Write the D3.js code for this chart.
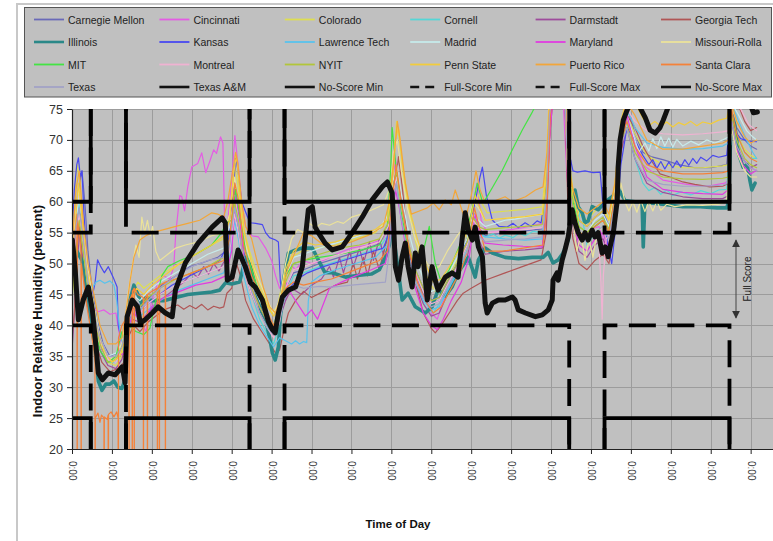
<!DOCTYPE html>
<html><head><meta charset="utf-8">
<script src="https://cdn.jsdelivr.net/npm/d3@7"></script>
<style>
html,body{margin:0;padding:0;background:#fff;}
svg{display:block;font-family:"Liberation Sans",Arial,Helvetica,sans-serif;}
</style></head><body>
<svg id="chart" width="773" height="541"></svg>
<script>
// ---------- data: [day, relative humidity %] ----------
const teamNames = ["Carnegie Mellon","Cincinnati","Colorado","Cornell","Darmstadt","Georgia Tech",
  "Illinois","Kansas","Lawrence Tech","Madrid","Maryland","Missouri-Rolla","MIT","Montreal","NYIT",
  "Penn State","Puerto Rico","Santa Clara","Texas","Texas A&M"];

const carnegieMellon = [[0,52],[0.08,58],[0.16,62],[0.25,65],[0.32,60],[0.40,52],[0.50,46],[0.62,41],[0.78,37],[0.95,35],[1.12,35.5],[1.28,37],[1.40,41],[1.55,44],[1.75,43],[1.95,44.5],[2.25,46.5],[2.60,48],[2.95,49.5],[3.30,50.2],[3.65,51],[3.85,52],[3.98,56],[4.08,62],[4.17,59],[4.30,52],[4.50,47],[4.70,43.5],[4.90,40.5],[5.05,39],[5.20,42],[5.35,46],[5.55,48.5],[5.80,49],[6.20,50],[6.70,51],[7.20,52],[7.70,53.2],[7.92,55.5],[8.03,62],[8.12,65],[8.22,60],[8.40,53],[8.60,48],[8.80,45],[9.00,43.5],[9.20,44],[9.40,46.5],[9.65,49.5],[9.90,53],[10.08,58],[10.20,56],[10.35,54.5],[10.85,55],[11.35,55.3],[11.78,55.6],[11.88,62],[11.96,75],[12.05,78],[12.35,77],[12.42,66],[12.55,61],[12.70,57],[12.90,56],[13.10,57.5],[13.30,58.5],[13.45,56],[13.60,62],[13.75,72],[13.90,75.5],[14.10,71],[14.30,68],[14.50,67.3],[14.80,66.8],[15.20,66],[15.60,65.5],[16.00,65.5],[16.40,66],[16.52,74],[16.65,72],[16.85,70],[17.00,69],[17.15,68.5]];
const cincinnati = [[0,52],[0.10,58],[0.18,61],[0.28,55],[0.40,47],[0.52,43],[0.65,42.2],[0.80,42.5],[0.95,41.8],[1.10,42],[1.20,38],[1.30,36],[1.40,40],[1.50,43],[1.70,41],[1.85,39],[2.00,44],[2.15,47],[2.30,48],[2.45,47.5],[2.55,49.5],[2.60,55],[2.70,61],[2.75,60.8],[2.82,58.5],[2.90,62.4],[3.00,65.6],[3.15,66.2],[3.25,67.9],[3.35,64.7],[3.45,66.5],[3.55,68.4],[3.62,67.8],[3.72,70.5],[3.78,69.5],[3.84,52],[3.92,58],[4.02,65],[4.08,70.7],[4.16,66],[4.25,60],[4.35,56],[4.50,54.5],[4.67,54.3],[4.85,52.5],[5.00,50.5],[5.10,48],[5.20,46],[5.30,47],[5.45,50],[5.60,49],[5.80,50.5],[6.00,50],[6.30,50.5],[6.60,51.5],[7.00,52.5],[7.40,53],[7.80,54],[7.95,57],[8.05,64],[8.10,67],[8.20,62],[8.35,55],[8.55,50],[8.70,46],[8.85,44],[9.00,42],[9.15,41],[9.30,44],[9.50,47],[9.70,50],[9.90,54],[10.05,60],[10.15,63],[10.25,57],[10.40,55],[10.80,55.3],[11.30,55.8],[11.78,56.5],[11.90,62],[11.98,72],[12.05,78],[12.30,77],[12.40,64],[12.50,58],[12.65,55],[12.80,54],[13.00,55.5],[13.20,56],[13.40,52],[13.55,56],[13.70,66],[13.85,75],[14.00,72],[14.30,66],[14.80,63.5],[15.40,62.8],[15.90,62.5],[16.35,63],[16.45,63.5],[16.52,75],[16.62,70],[16.80,67],[17.00,65.5],[17.15,65]];
const colorado = [[0,55],[0.08,62],[0.13,66],[0.20,63],[0.30,55],[0.42,48],[0.55,43],[0.70,38],[0.90,34],[1.10,33.5],[1.25,35],[1.38,40],[1.50,45],[1.65,47],[1.80,46],[2.00,47],[2.30,48.5],[2.70,50],[3.10,51.5],[3.50,53],[3.80,54],[3.95,58],[4.07,66],[4.15,63],[4.28,56],[4.45,52],[4.65,48],[4.85,44],[5.00,42],[5.15,43],[5.30,48],[5.50,51],[5.75,52],[6.10,52.5],[6.60,53],[7.10,54],[7.60,55],[7.90,57],[8.05,65],[8.13,73],[8.20,70],[8.35,62],[8.55,55],[8.75,50],[8.95,47],[9.15,45],[9.35,47],[9.60,50],[9.85,53],[10.02,58],[10.12,62],[10.25,60],[10.40,58.2],[10.90,58.5],[11.40,58.8],[11.78,59.2],[11.88,66],[11.96,78],[12.35,78],[12.42,68],[12.55,62],[12.70,58],[12.90,57],[13.10,58.5],[13.30,59.5],[13.45,57],[13.60,62],[13.75,70],[13.90,74],[14.10,71],[14.40,67.5],[14.80,66],[15.30,65.5],[15.80,65.5],[16.30,65.8],[16.45,66],[16.52,75],[16.65,71],[16.85,68.5],[17.00,67.5],[17.15,67]];
const cornell = [[0,46],[0.10,55],[0.18,60],[0.28,54],[0.40,47],[0.55,42],[0.70,37],[0.90,34],[1.10,34],[1.25,36],[1.38,41],[1.50,43.5],[1.70,42.5],[1.90,43.5],[2.20,45],[2.60,46.5],[3.00,47.5],[3.40,48.5],[3.80,49.5],[3.95,52],[4.07,59],[4.17,56],[4.30,50],[4.50,45],[4.70,41],[4.90,38.5],[5.05,37],[5.20,40],[5.35,45],[5.55,48],[5.80,48.5],[6.20,49.5],[6.70,50.5],[7.20,51.5],[7.70,52.5],[7.95,55],[8.05,61],[8.15,64],[8.25,58],[8.45,51],[8.65,46],[8.85,43],[9.05,42],[9.25,44],[9.50,47],[9.75,50],[9.95,53],[10.08,58],[10.20,55],[10.35,54.3],[10.55,54.8],[10.70,54.1],[10.85,54.6],[11.05,54.2],[11.20,54.9],[11.35,54.5],[11.55,55.2],[11.78,55],[11.88,62],[11.96,76],[12.35,76],[12.42,64],[12.50,59],[12.58,61],[12.66,56],[12.74,59],[12.90,53],[13.10,55],[13.30,56],[13.45,54],[13.60,60],[13.75,70],[13.90,73],[14.05,68],[14.30,63],[14.45,61.8],[14.60,62.3],[14.75,61.2],[14.90,61.9],[15.05,61],[15.25,61.6],[15.50,61.1],[15.75,61.8],[16.00,61.3],[16.20,61.9],[16.40,62],[16.52,74],[16.65,71],[16.85,68],[17.00,67],[17.15,67]];
const darmstadt = [[0,36],[0.06,42],[0.12,50],[0.20,55],[0.28,50],[0.40,44],[0.55,39],[0.70,36],[0.90,33.5],[1.10,33],[1.25,34.5],[1.38,38],[1.50,41],[1.70,40.5],[1.90,42],[2.20,44],[2.50,45.5],[2.80,47],[3.00,48.5],[3.15,47.8],[3.30,49.5],[3.42,48.3],[3.55,50],[3.68,48.8],[3.80,50.2],[3.95,52],[4.08,58],[4.18,55],[4.30,49],[4.50,45],[4.70,42],[4.90,40],[5.05,38.5],[5.20,41],[5.35,44],[5.50,46],[5.75,45],[6.00,46.5],[6.25,47.5],[6.45,49.5],[6.55,47.8],[6.70,51],[6.80,48.5],[6.95,52],[7.05,49.5],[7.20,52.5],[7.30,50],[7.45,53.5],[7.55,50.5],[7.70,54],[7.80,51.5],[7.92,55],[8.02,60],[8.12,66],[8.22,61],[8.40,53],[8.60,47],[8.80,43.5],[9.00,41.5],[9.20,42],[9.40,45],[9.65,48],[9.90,51],[10.05,56],[10.18,54],[10.35,51.5],[10.85,52],[11.35,52.2],[11.78,52.5],[11.88,58],[11.96,72],[12.05,77],[12.35,76],[12.42,62],[12.55,56],[12.70,52],[12.90,51],[13.10,53],[13.30,54],[13.45,52],[13.60,58],[13.75,68],[13.90,72],[14.10,67],[14.40,63],[14.80,61.5],[15.30,60.8],[15.80,60.5],[16.30,60.5],[16.45,61],[16.52,73],[16.65,69],[16.85,66.5],[17.00,65.5],[17.15,66]];
const georgiaTech = [[0,38],[0.06,42],[0.12,52],[0.18,56],[0.26,50],[0.36,44],[0.48,40],[0.60,37],[0.75,34],[0.95,32.5],[1.15,33],[1.30,34],[1.40,38],[1.55,40],[1.70,39],[1.90,40.5],[2.10,41.5],[2.30,42.5],[2.50,43],[2.65,43.3],[2.80,42.6],[2.95,43.2],[3.10,42.7],[3.25,43.4],[3.40,42.5],[3.55,43.1],[3.70,42.8],[3.80,43],[3.88,45.2],[4.00,46],[4.12,50],[4.22,48],[4.35,44],[4.55,41],[4.75,39],[4.95,37],[5.10,35.5],[5.20,36],[5.30,39],[5.42,42],[5.60,44],[5.80,45.5],[6.00,44.5],[6.30,45.5],[6.60,46.5],[6.90,47],[7.05,50],[7.15,47.5],[7.30,51],[7.40,48],[7.55,52],[7.70,49],[7.85,53],[7.95,55],[8.05,60],[8.18,67.3],[8.28,62],[8.40,54],[8.60,47],[8.80,42],[9.00,39.5],[9.10,38.8],[9.25,40],[9.45,42],[9.65,44],[9.80,45.2],[10.00,46],[10.35,47.3],[10.85,48.5],[11.28,49.5],[11.75,50.6],[11.88,55],[11.96,70],[12.05,77],[12.35,76],[12.42,60],[12.55,54],[12.70,50],[12.90,49],[13.10,50.5],[13.30,51.5],[13.45,50],[13.60,56],[13.75,68],[13.90,74],[14.10,72],[14.30,69],[14.48,67],[14.73,64.5],[14.98,64],[15.30,63.2],[15.60,62.8],[15.98,62.4],[16.30,62.5],[16.45,63],[16.52,76],[16.70,75.5],[16.85,73],[17.00,71.5],[17.15,72]];
const illinois = [[0,49],[0.12,52],[0.25,50.5],[0.38,46],[0.48,41],[0.58,36],[0.66,31],[0.75,29.5],[0.85,30.5],[0.95,30.5],[1.05,31],[1.15,30],[1.25,29.8],[1.32,31],[1.38,38],[1.45,44],[1.55,46.5],[1.65,45],[1.75,43.5],[1.85,44.5],[2.00,44],[2.30,44],[2.60,44.5],[2.90,45],[3.20,45.2],[3.50,45.4],[3.70,45.7],[3.85,46.9],[4.00,46.7],[4.20,47],[4.35,51],[4.45,50],[4.60,46],[4.75,42],[4.85,40.9],[4.95,38],[5.02,35.5],[5.09,34.4],[5.17,36.5],[5.27,46.2],[5.42,51.7],[5.60,52.2],[5.77,52.5],[6.02,52.5],[6.17,50.6],[6.34,48.5],[6.52,48.5],[6.85,47.8],[7.20,48.1],[7.50,48.3],[7.70,49],[7.85,51],[7.95,53],[8.02,56],[8.15,50],[8.27,44.1],[8.42,45.2],[8.60,43],[8.85,42],[9.02,43],[9.17,45.8],[9.35,44.7],[9.52,46.2],[9.67,48.5],[9.93,51],[10.10,47.8],[10.18,50.6],[10.35,52.5],[10.53,51.7],[10.85,51],[11.18,50.8],[11.53,51],[11.80,51],[11.93,51.8],[12.05,50.1],[12.18,50.6],[12.30,51.7],[12.43,53.8],[12.53,58.7],[12.60,61.9],[12.68,59.2],[12.78,58.2],[12.85,56.6],[12.93,56.9],[13.03,59.2],[13.18,58.7],[13.36,60],[13.53,60.8],[13.70,62],[13.85,60.2],[14.10,60],[14.28,60],[14.31,52.7],[14.35,59.8],[14.50,59.8],[14.90,59.5],[15.30,59.2],[15.74,59.2],[16.16,59],[16.40,59],[16.45,60],[16.50,71],[16.53,74],[16.60,72.5],[16.69,67.9],[16.81,65.6],[16.91,66],[16.98,63.5],[17.03,61.9],[17.11,63]];
const kansas = [[0,55],[0.06,62],[0.12,66],[0.16,67.1],[0.21,64],[0.25,65],[0.30,58],[0.38,50],[0.45,46],[0.52,45],[0.58,47],[0.64,50.6],[0.72,49.5],[0.81,48.5],[0.91,49.5],[1.03,47.8],[1.13,46.2],[1.16,40],[1.22,38],[1.30,37],[1.40,40],[1.50,43],[1.70,42],[1.90,43.5],[2.20,45],[2.50,46.5],[2.80,47.5],[3.10,48.5],[3.40,49.5],[3.70,50.5],[3.90,53],[4.02,60],[4.10,67],[4.16,65],[4.25,60],[4.40,57.5],[4.47,56.6],[4.60,56.5],[4.77,56.3],[4.85,55],[4.95,54.2],[5.10,53.8],[5.17,53.5],[5.22,47],[5.30,44],[5.45,46],[5.65,47.5],[5.90,48.5],[6.30,49.5],[6.80,50.5],[7.30,51.5],[7.80,52.5],[7.95,55],[8.05,62],[8.12,66],[8.22,61],[8.40,54],[8.60,49],[8.80,46],[9.00,44.1],[9.20,44.5],[9.40,47],[9.65,50],[9.90,54],[10.10,60],[10.22,64],[10.28,65.6],[10.38,61],[10.53,57],[10.70,56],[10.90,55.9],[11.05,56.5],[11.18,55.8],[11.35,56.6],[11.50,56],[11.65,56.9],[11.75,56.6],[11.88,62],[11.96,74],[12.05,77],[12.35,76],[12.45,68],[12.55,65],[12.66,64.8],[12.85,65],[13.05,64.7],[13.23,64.8],[13.32,58],[13.42,53],[13.52,50],[13.62,56],[13.75,66],[13.90,72],[14.10,70],[14.30,67.5],[14.45,66],[14.55,66.8],[14.65,65.4],[14.75,66.5],[14.85,65.3],[14.95,66.4],[15.05,65.5],[15.15,66.6],[15.25,65.6],[15.35,66.8],[15.45,65.9],[15.55,67],[15.65,66.2],[15.75,67.2],[15.90,66.6],[16.05,67.5],[16.20,67.2],[16.40,67.5],[16.50,74],[16.60,71.5],[16.75,70.2],[16.95,69.8],[17.15,69.7]];
const lawrenceTech = [[0,48],[0.10,56],[0.18,59],[0.28,53],[0.40,48],[0.50,46],[0.60,47],[0.70,47.3],[0.82,46.8],[0.95,47.2],[1.05,46.5],[1.12,44],[1.20,39],[1.30,36],[1.40,39],[1.52,42],[1.70,41.5],[1.90,42.5],[2.20,44],[2.60,45.5],[3.00,46.5],[3.40,47.5],[3.80,48.5],[3.95,51],[4.07,57],[4.17,54],[4.30,48],[4.50,43],[4.70,40],[4.90,38],[5.05,36.5],[5.20,38],[5.35,37.5],[5.50,37],[5.60,37.5],[5.70,37],[5.80,37.4],[5.88,37.2],[5.92,44],[6.00,47],[6.20,48],[6.60,49],[7.10,50],[7.60,51],[7.90,53],[8.03,59],[8.13,63],[8.23,58],[8.40,52],[8.60,47],[8.80,44],[9.00,42.5],[9.20,43],[9.40,45.5],[9.65,48.5],[9.90,52],[10.05,56],[10.18,55],[10.35,54.3],[10.85,54],[11.35,53.8],[11.78,54],[11.88,61],[11.96,75],[12.05,78],[12.35,77],[12.42,64],[12.55,58],[12.70,55],[12.90,54],[13.10,56],[13.30,57],[13.45,55],[13.60,61],[13.75,71],[13.90,75],[14.10,72],[14.40,69.5],[14.80,68.8],[15.30,68.5],[15.80,68.6],[16.30,69],[16.45,69.5],[16.52,76],[16.70,73],[16.90,70],[17.05,68],[17.15,67]];
const madrid = [[0,49],[0.10,57],[0.18,61],[0.28,55],[0.40,48],[0.55,43],[0.70,38],[0.90,35],[1.10,35.5],[1.25,37],[1.38,42],[1.52,45],[1.70,44],[1.90,45.5],[2.20,47],[2.60,48.5],[3.00,50],[3.40,51.5],[3.80,52.5],[3.95,56],[4.07,61],[4.17,58],[4.30,51],[4.50,47],[4.70,44],[4.90,41.5],[5.05,40],[5.20,42.5],[5.35,48],[5.55,51],[5.80,51.5],[6.20,52.5],[6.70,53.5],[7.20,54.5],[7.70,55.5],[7.92,58],[8.03,63],[8.13,66],[8.23,62],[8.40,56],[8.60,51],[8.80,47.5],[9.00,45.5],[9.20,46],[9.40,48],[9.65,51],[9.90,54],[10.05,58],[10.18,57],[10.35,56],[10.60,56.5],[10.85,57],[11.10,57.2],[11.35,57.5],[11.60,57.8],[11.78,58],[11.88,64],[11.96,76],[12.05,78],[12.35,77],[12.42,66],[12.55,60],[12.70,56],[12.90,55],[13.10,57],[13.30,58],[13.45,56],[13.60,62],[13.75,71],[13.90,74],[14.05,71],[14.20,68],[14.35,69.5],[14.45,68.2],[14.55,70.2],[14.65,68.6],[14.75,70.5],[14.85,69],[14.95,70.3],[15.05,68.8],[15.15,70.1],[15.30,69],[15.50,69.8],[15.70,69.2],[15.90,70],[16.10,69.5],[16.30,70],[16.45,70.5],[16.52,76],[16.70,74],[16.90,71.5],[17.05,70.5],[17.15,70]];
const maryland = [[0,45],[0.12,57],[0.22,58],[0.32,50],[0.45,44],[0.60,40],[0.75,36],[0.95,34.5],[1.15,35],[1.30,35.5],[1.42,40],[1.55,42],[1.75,40.5],[2.00,43],[2.30,44.5],[2.70,45.5],[3.10,46.5],[3.50,47],[3.85,48],[4.00,52],[4.10,61],[4.20,57],[4.32,50],[4.50,46],[4.70,43],[4.90,40.5],[5.05,39],[5.20,42],[5.35,47],[5.50,45],[5.70,43],[5.85,41.5],[6.00,42.5],[6.15,41],[6.27,43],[6.45,46],[6.75,47],[7.10,48],[7.50,49],[7.85,50],[8.00,55],[8.10,62],[8.20,59],[8.40,51],[8.60,46],[8.80,42],[9.00,40],[9.15,39.3],[9.30,41],[9.50,44],[9.75,47],[9.95,51],[10.10,58],[10.20,55],[10.35,53.3],[10.80,53],[11.30,52.8],[11.78,52.7],[11.88,58],[11.96,70],[12.05,77],[12.35,76],[12.42,63],[12.55,57],[12.70,53],[12.90,52],[13.10,54],[13.30,55],[13.45,52],[13.60,58],[13.75,70],[13.90,74],[14.10,69],[14.40,64],[14.80,62],[15.30,61.5],[15.80,61.3],[16.30,61.2],[16.45,62],[16.52,74],[16.62,69],[16.80,66],[17.00,64.5],[17.15,65.1]];
const missouriRolla = [[0,51],[0.10,59],[0.17,62],[0.26,57],[0.38,50],[0.50,45],[0.62,40],[0.78,36],[0.95,34.5],[1.12,35],[1.28,37.5],[1.40,45],[1.52,50],[1.60,53],[1.68,51],[1.75,57.5],[1.82,55],[1.89,57],[1.96,54.5],[2.02,56],[2.10,52],[2.20,50.5],[2.40,51.5],[2.60,52.5],[2.84,53],[3.16,53.5],[3.50,54.5],[3.80,55],[3.95,58],[4.07,64],[4.17,60],[4.30,54],[4.50,50],[4.70,47],[4.90,44],[5.05,42],[5.20,44],[5.35,50],[5.50,54],[5.65,55.5],[5.80,55],[5.95,56.5],[6.10,55.8],[6.25,56.5],[6.45,56.2],[6.65,56.8],[6.80,56.5],[7.00,57.5],[7.25,58],[7.52,58.7],[7.80,59.5],[7.95,62],[8.05,68],[8.15,70],[8.25,65],[8.40,59],[8.60,54],[8.80,51],[9.00,49],[9.20,49.5],[9.40,52],[9.65,54.5],[9.90,56.5],[10.05,60],[10.18,59],[10.35,57],[10.85,57.3],[11.35,57.6],[11.78,58],[11.88,64],[11.96,76],[12.05,78],[12.35,77],[12.42,64],[12.55,57],[12.65,52],[12.75,55],[12.85,50.5],[12.95,54],[13.05,51],[13.15,55],[13.30,56],[13.45,54],[13.60,58],[13.75,63],[13.85,60],[13.95,58.5],[14.05,60],[14.15,58.3],[14.25,60.2],[14.35,58.4],[14.45,60],[14.55,58.5],[14.65,60.1],[14.75,58.6],[14.90,59.6],[15.10,59.2],[15.40,59.5],[15.80,59.4],[16.20,59.6],[16.40,60],[16.52,72],[16.65,68],[16.85,65],[17.00,64],[17.15,64]];
const mit = [[0,50],[0.10,56],[0.20,58],[0.30,51],[0.42,45],[0.55,40],[0.70,36],[0.90,34],[1.10,35],[1.25,39],[1.32,37],[1.42,40],[1.60,39],[1.80,38.5],[1.95,39.5],[2.10,44],[2.25,48],[2.40,49.5],[2.70,50.5],[3.10,51.5],[3.50,53],[3.75,55],[3.85,56.5],[4.00,57],[4.10,62],[4.20,58],[4.35,52],[4.55,48],[4.75,44],[4.90,41],[5.05,40],[5.20,43],[5.35,48],[5.55,50],[5.80,50.5],[6.20,51],[6.70,51.5],[7.27,52.2],[7.70,53],[7.90,56],[7.98,65],[8.02,72],[8.08,68],[8.20,60],[8.40,53],[8.60,49],[8.80,52],[8.95,56],[9.10,50],[9.25,47],[9.45,49],[9.65,52],[9.85,55],[10.00,58],[10.15,63],[10.28,60],[10.35,60.3],[10.55,62.5],[10.78,65.1],[11.03,68.4],[11.28,71.6],[11.53,74.5],[11.65,76],[11.95,78],[12.35,78],[12.42,66],[12.55,60],[12.70,56],[12.90,55],[13.10,56],[13.30,57],[13.45,55],[13.60,60],[13.75,70],[13.90,76],[14.20,77],[14.60,76.5],[15.20,76],[15.80,76],[16.30,76],[16.50,78],[16.80,77],[17.15,76.5]];
const montreal = [[0,47],[0.10,54],[0.18,58],[0.28,53],[0.40,46],[0.55,41],[0.70,37],[0.90,34.5],[1.10,34],[1.25,36],[1.38,40],[1.52,43],[1.70,42],[1.90,43.5],[2.20,45],[2.60,46.5],[3.00,47.5],[3.40,48.5],[3.80,49.5],[3.95,52],[4.07,58],[4.17,55],[4.30,49],[4.50,45],[4.70,42],[4.90,39.5],[5.05,38],[5.20,40.5],[5.35,46],[5.55,49],[5.80,49.5],[6.20,50.5],[6.70,51.5],[7.20,52.5],[7.70,53.5],[7.92,56],[8.03,61],[8.13,64],[8.23,60],[8.40,54],[8.60,49],[8.80,45.5],[9.00,43.5],[9.20,44],[9.40,46.5],[9.65,49.5],[9.90,53],[10.05,57],[10.18,56],[10.35,55],[10.85,55.2],[11.35,55.5],[11.78,55.8],[11.88,62],[11.96,75],[12.05,78],[12.35,77],[12.42,65],[12.55,59],[12.70,55],[12.90,54],[13.10,55],[13.20,53],[13.25,47],[13.28,41],[13.31,48],[13.38,54],[13.50,55],[13.62,61],[13.75,71],[13.90,75],[14.10,73],[14.40,71.5],[14.80,71],[15.30,70.8],[15.80,71],[16.30,71.3],[16.45,71.5],[16.52,77],[16.75,75],[16.95,72.5],[17.15,71.5]];
const nyit = [[0,44],[0.10,52],[0.18,57],[0.28,52],[0.40,46],[0.55,41],[0.70,37],[0.90,34],[1.10,34.5],[1.25,36.5],[1.38,41],[1.52,44],[1.70,43],[1.90,44.5],[2.20,46],[2.60,47.5],[3.00,48.5],[3.40,49.5],[3.80,51],[3.95,54],[4.07,60],[4.17,57],[4.30,50],[4.50,46],[4.70,43],[4.90,40.5],[5.05,39],[5.20,41.5],[5.35,47],[5.55,50],[5.80,50.5],[6.20,51.5],[6.70,52.5],[7.20,53],[7.70,54],[7.92,56.5],[8.03,62],[8.13,65],[8.23,60],[8.40,54],[8.60,49],[8.80,46],[9.00,44],[9.20,44.5],[9.40,47],[9.65,50],[9.90,53.5],[10.05,57.5],[10.18,56],[10.35,55.5],[10.85,55.8],[11.35,56],[11.78,56.3],[11.88,63],[11.96,75],[12.05,78],[12.35,77],[12.42,65],[12.55,59],[12.70,56],[12.90,55],[13.10,56.5],[13.30,57.5],[13.45,55.5],[13.60,61],[13.75,70],[13.90,72],[14.10,68],[14.40,65],[14.80,64],[15.30,63.7],[15.80,63.6],[16.30,63.8],[16.45,64],[16.52,74],[16.65,70],[16.85,67],[17.00,66],[17.15,65.5]];
const pennState = [[0,50],[0.10,58],[0.16,63],[0.24,58],[0.35,50],[0.48,45],[0.62,40],[0.80,36],[1.00,34],[1.20,35],[1.35,38],[1.48,44],[1.62,46],[1.80,45],[2.00,46.5],[2.30,48],[2.70,50],[3.10,51.5],[3.50,53],[3.80,54.5],[3.95,57],[4.06,65],[4.12,67.5],[4.20,62],[4.32,55],[4.50,50],[4.70,46],[4.90,43],[5.05,41.5],[5.20,43],[5.35,49],[5.55,52],[5.80,53.5],[6.10,53],[6.60,53.5],[7.10,54.5],[7.60,55.5],[7.90,57],[8.02,63],[8.10,70],[8.18,72],[8.28,66],[8.45,59],[8.65,54],[8.85,50],[9.05,47],[9.25,47.5],[9.50,50],[9.75,53],[9.95,56],[10.10,61],[10.22,59],[10.35,57],[10.85,57.3],[11.35,57.6],[11.78,58],[11.88,65],[11.96,77],[12.35,77],[12.42,67],[12.55,61],[12.70,57],[12.90,56],[13.10,57.5],[13.30,58.5],[13.45,57],[13.60,63],[13.75,73],[13.90,77],[14.10,76],[14.30,73.5],[14.45,72.3],[14.60,73],[14.75,72.2],[14.90,72.9],[15.05,72.1],[15.20,72.8],[15.35,72.4],[15.50,73],[15.65,72.3],[15.80,72.9],[16.00,72.6],[16.20,73.2],[16.40,73.5],[16.52,77],[16.80,76],[17.15,75.5]];
const puertoRico = [[0,53],[0.10,62],[0.18,65],[0.28,57],[0.40,50],[0.55,45],[0.70,40],[0.90,37],[1.10,37],[1.25,38],[1.35,42],[1.45,47],[1.55,51],[1.70,53.8],[1.85,54.5],[2.00,55],[2.30,55.5],[2.60,56],[2.90,56.5],[3.20,57],[3.50,58.2],[3.65,58],[3.80,57.5],[3.90,60],[4.00,64],[4.10,68],[4.16,66],[4.25,60],[4.35,56],[4.50,54],[4.65,50],[4.80,46],[4.95,43],[5.10,42],[5.25,45],[5.40,49],[5.60,52],[5.80,55],[6.00,54.5],[6.30,53],[6.60,52.8],[7.00,53.5],[7.40,54.5],[7.80,56],[7.95,60],[8.05,66],[8.15,73],[8.22,70],[8.35,63],[8.50,58],[8.70,58.5],[8.90,59],[9.05,59.8],[9.20,58.7],[9.35,60.3],[9.50,59.5],[9.60,61.9],[9.70,60],[9.85,57],[10.00,61],[10.12,65],[10.22,62],[10.35,59.8],[10.53,60],[10.85,60.8],[11.03,60],[11.36,60.8],[11.61,61.9],[11.80,62.4],[11.90,68],[11.98,78],[12.35,78],[12.42,66],[12.55,62],[12.70,59],[12.90,58],[13.10,59],[13.30,60],[13.45,58],[13.60,63],[13.75,72],[13.90,76],[14.10,74],[14.40,70],[14.80,68.5],[15.30,68.5],[15.80,69],[16.30,69.5],[16.45,70],[16.52,76],[16.65,73],[16.85,70.5],[17.00,69.5],[17.15,70]];
const santaClara = [[0,47],[0.08,55],[0.125,58],[0.13,0],[0.135,57],[0.20,54],[0.225,52],[0.23,0],[0.235,50],[0.35,44],[0.45,40],[0.55,36],[0.575,34],[0.58,0],[0.585,25],[0.65,25.8],[0.70,24.3],[0.74,25.5],[0.80,25],[0.805,0],[0.81,25.2],[0.88,24.8],[0.905,25.5],[0.91,0],[0.915,25.6],[0.98,26],[1.05,25.2],[1.12,26],[1.155,25],[1.16,0],[1.165,38],[1.25,40],[1.35,41],[1.425,43],[1.43,0],[1.435,44],[1.505,45],[1.51,0],[1.515,45.5],[1.555,46],[1.56,0],[1.565,46],[1.65,45],[1.785,44.5],[1.79,0],[1.795,44],[1.885,45],[1.89,0],[1.895,45],[2.00,45.5],[2.135,46],[2.14,0],[2.145,46],[2.185,46.5],[2.19,0],[2.195,46.5],[2.335,47],[2.34,0],[2.345,47],[2.60,47.5],[3.00,48.5],[3.40,49.5],[3.80,50.5],[3.95,54],[4.08,63],[4.18,60],[4.30,53],[4.50,48],[4.70,45],[4.90,42],[5.05,40],[5.20,42],[5.35,46],[5.55,47],[5.80,46.5],[6.10,47],[6.50,47.5],[6.90,48.5],[7.30,49.5],[7.70,50.5],[7.90,52],[8.02,60],[8.12,66],[8.25,60],[8.45,52],[8.65,47],[8.85,44],[9.05,42],[9.25,43],[9.50,46],[9.75,49],[9.95,53],[10.08,59],[10.20,56],[10.35,52],[10.80,52],[11.30,52.5],[11.80,53],[11.90,60],[11.98,74],[12.05,78],[12.35,77],[12.42,64],[12.55,58],[12.70,55],[12.90,54.5],[13.10,56],[13.30,57],[13.45,55],[13.60,61],[13.75,70],[13.90,73],[14.10,69],[14.40,66],[14.80,65],[15.30,64.5],[15.80,64.5],[16.30,64.7],[16.45,65],[16.52,75],[16.65,71],[16.85,68],[17.00,67],[17.15,66.5]];
const texas = [[0,50],[0.10,56],[0.18,59],[0.28,54],[0.40,47],[0.55,42],[0.70,38],[0.90,35],[1.10,35],[1.25,36.5],[1.38,40.5],[1.52,43.5],[1.70,42.5],[1.90,44],[2.20,46],[2.60,48],[3.00,49.5],[3.40,50.5],[3.80,51],[3.95,53],[4.07,59],[4.17,56],[4.30,50],[4.50,45.5],[4.70,42],[4.90,39.5],[5.05,38.5],[5.20,41],[5.35,45],[5.55,46.5],[5.80,46],[6.20,46.3],[6.52,46.2],[7.00,46.5],[7.50,46.8],[7.85,47],[7.95,52],[8.03,60],[8.13,63],[8.23,58],[8.40,52],[8.60,47],[8.80,44.5],[9.00,43],[9.20,43.5],[9.40,46],[9.65,49],[9.90,52],[10.05,56],[10.18,54.5],[10.35,53.5],[10.85,53.8],[11.35,54],[11.78,54.3],[11.88,61],[11.96,74],[12.05,78],[12.35,77],[12.42,64],[12.55,58],[12.70,54.5],[12.90,53.5],[13.10,55],[13.30,56],[13.45,54],[13.60,60],[13.75,69],[13.90,72],[14.10,67],[14.40,63.5],[14.80,62.8],[15.30,62.5],[15.80,62.5],[16.30,62.7],[16.45,63],[16.52,73],[16.65,69],[16.85,66.5],[17.00,65.5],[17.15,65]];
const texasAM = [[0.01,53.8],[0.08,49.0],[0.16,40.9],[0.28,44.1],[0.41,46.2],[0.51,42.5],[0.61,36.0],[0.66,32.3],[0.76,31.2],[0.91,32.3],[1.08,32.0],[1.26,33.3],[1.33,30.7],[1.38,41.4],[1.51,44.1],[1.64,43.0],[1.71,40.4],[1.83,40.9],[2.01,42.0],[2.16,43.0],[2.34,42.0],[2.51,41.4],[2.59,45.7],[2.84,50.1],[3.16,53.3],[3.51,55.9],[3.76,57.4],[3.84,56.6],[3.89,47.3],[4.01,47.8],[4.16,52.2],[4.34,49.5],[4.47,46.9],[4.59,46.2],[4.77,44.1],[4.92,40.6],[5.02,39.3],[5.09,38.8],[5.17,42.0],[5.27,44.6],[5.42,45.7],[5.60,46.2],[5.77,49.5],[5.84,53.8],[5.92,58.7],[6.02,59.2],[6.09,55.9],[6.17,55.0],[6.34,53.3],[6.52,52.2],[6.77,52.7],[7.02,55.0],[7.27,57.5],[7.52,60.3],[7.77,62.4],[7.90,63.2],[8.02,61.4],[8.05,57.5],[8.10,49.5],[8.18,47.3],[8.27,51.1],[8.35,53.3],[8.42,49.5],[8.52,46.2],[8.60,51.7],[8.67,49.5],[8.77,52.7],[8.90,44.1],[9.02,49.5],[9.10,47.3],[9.17,45.7],[9.35,47.8],[9.52,48.5],[9.67,47.8],[9.77,53.8],[9.85,58.2],[9.93,55.4],[10.03,53.8],[10.10,55.9],[10.18,52.7],[10.28,51.1],[10.35,43.6],[10.40,42.0],[10.53,43.6],[10.68,44.1],[10.85,44.1],[11.03,44.6],[11.10,44.1],[11.18,42.5],[11.36,42.0],[11.61,41.4],[11.78,41.7],[11.93,42.5],[12.03,44.1],[12.05,47.3],[12.15,48.5],[12.18,47.3],[12.28,50.6],[12.35,52.2],[12.43,54.3],[12.53,58.7],[12.60,56.6],[12.68,55.0],[12.78,53.8],[12.85,55.0],[12.93,53.8],[13.03,55.4],[13.10,54.3],[13.18,55.0],[13.28,51.7],[13.36,52.7],[13.43,51.1],[13.48,52.7],[13.56,55.0],[13.66,60.3],[13.68,65.6],[13.73,70.0],[13.81,73.2],[13.91,74.9],[14.06,76.5],[14.23,75.2],[14.36,73.6],[14.48,71.6],[14.61,71.1],[14.73,72.0],[14.81,73.2],[14.91,74.9],[15.03,77.3],[15.74,78.0],[16.74,77.3],[16.99,75.7],[17.07,74.4],[17.17,74.5]];

const teamSeries = [carnegieMellon, cincinnati, colorado, cornell, darmstadt, georgiaTech,
  illinois, kansas, lawrenceTech, madrid, maryland, missouriRolla, mit, montreal, nyit,
  pennState, puertoRico, santaClara, texas, texasAM];

// scoring limits: level inside the scoring windows, off-chart level outside them
const thresholdNames = ["No-Score Min","Full-Score Min","Full-Score Max","No-Score Max"];
const thresholdLevels = [25, 40, 55, 60];
const thresholdOffLevels = [0, 0, 100, 100];
const scoringWindows = [[0, 0.47], [1.352, 4.448], [5.324, 12.455], [13.34, 16.47]];
const lastDay = 17.17;

const yTicks = [20, 25, 30, 35, 40, 45, 50, 55, 60, 65, 70, 75];
const dayTicks = [0,1,2,3,4,5,6,7,8,9,10,11,12,13,14,15,16,17];
const dayTickLabel = "0:00";

// ---------- styles ----------
const teamColors = ["#6a6ab8","#e45ce4","#dede50","#55d6d6","#9e4c9c","#b05656",
  "#2a8888","#4848f0","#58c2ec","#c6eaea","#e03ce0","#ebe29a","#44e444","#f0b2d2","#b2c63a",
  "#f2cc3c","#f2a63a","#f4823a","#a2a2c6","#111111"];
const color = d3.scaleOrdinal().domain(teamNames).range(teamColors);
const teamWidth = name => name === "Texas A&M" ? 5 : name === "Illinois" ? 3.6 : 1.2;
const thresholdDash = ["none", "27,11.5", "27,11.5", "none"];

const svg = d3.select("#chart");
const plot = {left: 72, right: 773, top: 109, bottom: 449};

const x = d3.scaleLinear().domain([0, 17.56]).range([plot.left, plot.right]);
const y = d3.scaleLinear().domain([20, 75]).range([plot.bottom, plot.top]);

// chart frame
svg.append("rect").attr("x", 17).attr("y", 4).attr("width", 800).attr("height", 600)
  .attr("fill", "#fff").attr("stroke", "#c8c8c8").attr("stroke-width", 2);

// plot background and grid
svg.append("rect").attr("x", plot.left).attr("y", plot.top)
  .attr("width", plot.right - plot.left).attr("height", plot.bottom - plot.top).attr("fill", "#c0c0c0");
const grid = svg.append("g").attr("stroke", "#9c9c9c").attr("stroke-width", 1);
grid.selectAll("line.h").data(yTicks.filter(v => v > 20)).join("line")
  .attr("x1", plot.left).attr("x2", plot.right)
  .attr("y1", d => Math.round(y(d)) + 0.5).attr("y2", d => Math.round(y(d)) + 0.5);
grid.selectAll("line.v").data(dayTicks.filter(d => d > 0)).join("line")
  .attr("x1", d => Math.round(x(d)) + 0.5).attr("x2", d => Math.round(x(d)) + 0.5)
  .attr("y1", plot.top).attr("y2", plot.bottom);

svg.append("clipPath").attr("id", "plotClip").append("rect")
  .attr("x", plot.left).attr("y", plot.top)
  .attr("width", plot.right - plot.left).attr("height", plot.bottom - plot.top);

const line = d3.line().x(d => x(d[0])).y(d => y(d[1]));
const series = svg.append("g").attr("clip-path", "url(#plotClip)")
  .attr("fill", "none").attr("stroke-linejoin", "round").attr("stroke-linecap", "round");

series.selectAll("path.team").data(teamNames).join("path")
  .attr("class", "team")
  .attr("d", (name, i) => line(teamSeries[i]))
  .attr("stroke", name => color(name))
  .attr("stroke-width", teamWidth);

// scoring limit lines
function thresholdPoints(level, off) {
  const pts = [];
  scoringWindows.forEach(([s, e]) => {
    if (s > 0) pts.push([s, off]);
    pts.push([s, level], [e, level], [e, off]);
  });
  pts.push([lastDay, off]);
  return pts;
}
series.selectAll("path.limit").data(thresholdNames).join("path")
  .attr("class", "limit")
  .attr("d", (n, i) => line(thresholdPoints(thresholdLevels[i], thresholdOffLevels[i])))
  .attr("stroke", "#000").attr("stroke-width", 3.8)
  .attr("stroke-linecap", "butt").attr("stroke-linejoin", "miter")
  .attr("stroke-dasharray", (n, i) => thresholdDash[i]);

// axes
const yAxis = svg.append("g").attr("transform", `translate(${plot.left},0)`)
  .call(d3.axisLeft(y).tickValues(yTicks).tickSize(5).tickSizeOuter(0).tickPadding(4));
const xAxis = svg.append("g").attr("transform", `translate(0,${plot.bottom})`)
  .call(d3.axisBottom(x).tickValues(dayTicks).tickFormat(() => dayTickLabel).tickSize(5).tickSizeOuter(0));
[yAxis, xAxis].forEach(g => {
  g.select(".domain").attr("stroke", "#222").attr("stroke-width", 1.2);
  g.selectAll(".tick line").attr("stroke", "#222");
  g.selectAll("text").attr("fill", "#333").attr("font-family", '"Liberation Sans",Arial,sans-serif');
});
yAxis.selectAll("text").attr("font-size", 12.5);
xAxis.selectAll("text").attr("font-size", 10)
  .attr("transform", "rotate(90)").attr("x", 12).attr("y", 0).attr("dy", "0.35em")
  .style("text-anchor", "start");

// axis titles
svg.append("text").attr("transform", "translate(42,311) rotate(-90)")
  .attr("text-anchor", "middle").attr("font-size", 13).attr("font-weight", "bold").attr("fill", "#111")
  .text("Indoor Relative Humidity (percent)");
svg.append("text").attr("x", 398).attr("y", 528)
  .attr("text-anchor", "middle").attr("font-size", 11.5).attr("font-weight", "bold").attr("fill", "#111")
  .text("Time of Day");

// full-score band annotation
const defs = svg.append("defs");
defs.append("marker").attr("id", "arrowHead").attr("viewBox", "0 0 10 10")
  .attr("refX", 9).attr("refY", 5).attr("markerWidth", 8).attr("markerHeight", 8)
  .attr("orient", "auto-start-reverse").attr("markerUnits", "userSpaceOnUse")
  .append("path").attr("d", "M0,0 L10,5 L0,10 z").attr("fill", "#333");
svg.append("line").attr("x1", 736).attr("x2", 736).attr("y1", y(53.8)).attr("y2", y(41.2))
  .attr("stroke", "#444").attr("stroke-width", 1)
  .attr("marker-start", "url(#arrowHead)").attr("marker-end", "url(#arrowHead)");
svg.append("text").attr("transform", `translate(751,${y(47.5)}) rotate(-90)`)
  .attr("text-anchor", "middle").attr("font-size", 10).attr("fill", "#222").text("Full Score");

// legend
const legendNames = teamNames.concat(thresholdNames);
const legend = svg.append("g");
legend.append("rect").attr("x", 24.5).attr("y", 7.5).attr("width", 747).attr("height", 89.5)
  .attr("fill", "#c0c0c0").attr("stroke", "#555").attr("stroke-width", 1);
const item = legend.selectAll("g.item").data(legendNames).join("g")
  .attr("class", "item")
  .attr("transform", (d, i) => `translate(${34 + (i % 6) * 125.4},${19.5 + Math.floor(i / 6) * 22.5})`);
item.append("line").attr("x1", 0).attr("x2", 30).attr("y1", 0).attr("y2", 0)
  .attr("stroke", (d, i) => i < teamNames.length ? color(d) : "#111")
  .attr("stroke-width", (d, i) => i < teamNames.length ? (d === "Illinois" || d === "Texas A&M" ? 2.6 : 1.8) : 2.6)
  .attr("stroke-dasharray", (d, i) => i >= teamNames.length && thresholdDash[i - teamNames.length] !== "none" ? "9,6" : null);
item.append("text").attr("x", 34).attr("y", 4).attr("font-size", 10.5).attr("fill", "#222")
  .text(d => d);
</script>
</body></html>
